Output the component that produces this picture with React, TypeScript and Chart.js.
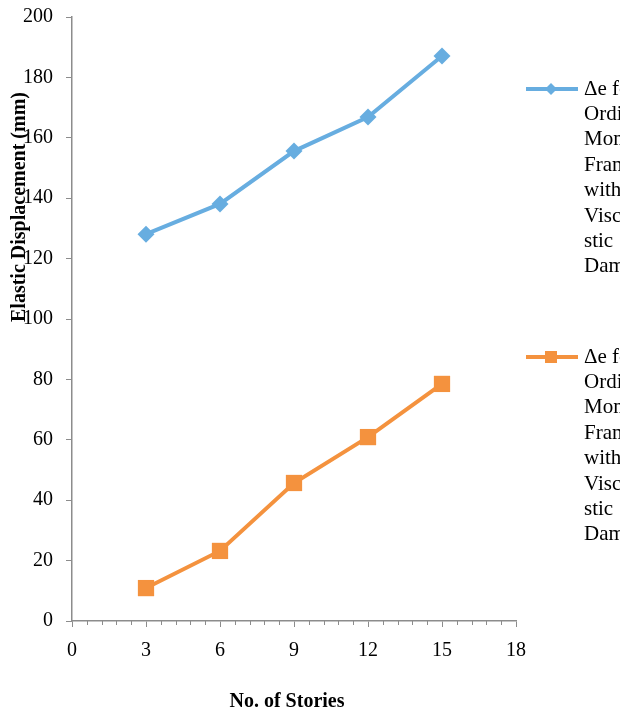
import React, { useEffect, useRef } from "react";
import { Chart, registerables } from "chart.js";

Chart.register(...registerables);

const stories = [3, 6, 9, 12, 15];
const withoutDamper = [128.1, 138.1, 155.6, 166.9, 187.1];
const withDamper = [10.9, 23.2, 45.7, 60.9, 78.5];
const legendWithout = ["\u0394e for", "Ordinary", "Moment", "Frame", "without", "Viscoela", "stic", "Damper"];
const legendWith = ["\u0394e for", "Ordinary", "Moment", "Frame", "with", "Viscoela", "stic", "Damper"];

const BLUE = "#67ade0";
const ORANGE = "#f4923e";
const AXIS = "#8c8c8c";
const FONT = "'Liberation Serif', 'Times New Roman', serif";

const decorPlugin = {
  id: "decor",
  afterDraw(chart: any) {
    const ctx = chart.ctx as CanvasRenderingContext2D;
    const x = chart.scales.x;
    const area = chart.chartArea;
    ctx.save();
    // minor ticks along the x axis
    ctx.strokeStyle = AXIS;
    ctx.lineWidth = 1;
    for (let i = 0; i <= 30; i++) {
      if (i % 5 === 0) continue;
      const px = Math.round(x.getPixelForValue(i * 0.6)) + 0.5;
      ctx.beginPath();
      ctx.moveTo(px, area.bottom);
      ctx.lineTo(px, area.bottom + 4);
      ctx.stroke();
    }
    // axis titles
    ctx.fillStyle = "#000";
    ctx.font = `bold 20px ${FONT}`;
    ctx.textAlign = "center";
    ctx.textBaseline = "middle";
    ctx.fillText("No. of Stories", 287, 702);
    ctx.save();
    ctx.translate(20, 207);
    ctx.rotate(-Math.PI / 2);
    ctx.fillText("Elastic Displacement (mm)", 0, 0);
    ctx.restore();
    // legend
    const drawEntry = (y0: number, color: string, style: string, lines: string[]) => {
      ctx.strokeStyle = color;
      ctx.lineWidth = 4;
      ctx.beginPath();
      ctx.moveTo(526, y0);
      ctx.lineTo(578, y0);
      ctx.stroke();
      ctx.fillStyle = color;
      if (style === "rectRot") {
        ctx.beginPath();
        ctx.moveTo(551, y0 - 6);
        ctx.lineTo(557, y0);
        ctx.lineTo(551, y0 + 6);
        ctx.lineTo(545, y0);
        ctx.closePath();
        ctx.fill();
      } else {
        ctx.fillRect(545, y0 - 6, 12, 12);
      }
      ctx.fillStyle = "#000";
      ctx.font = `21px ${FONT}`;
      ctx.textAlign = "left";
      ctx.textBaseline = "middle";
      lines.forEach((t, i) => ctx.fillText(t, 584, y0 + i * 25.4));
    };
    drawEntry(89, BLUE, "rectRot", legendWithout);
    drawEntry(357, ORANGE, "rect", legendWith);
    ctx.restore();
  },
};

export default function App() {
  const ref = useRef<HTMLCanvasElement>(null);
  useEffect(() => {
    document.documentElement.style.overflow = "hidden";
    document.body.style.margin = "0";
    const chart = new Chart(ref.current!, {
      type: "line",
      data: {
        datasets: [
          {
            label: "without",
            data: stories.map((s, i) => ({ x: s, y: withoutDamper[i] })),
            borderColor: BLUE,
            backgroundColor: BLUE,
            borderWidth: 4,
            pointStyle: "rectRot",
            pointRadius: 8.5,
            pointHoverRadius: 8.5,
            pointBorderWidth: 0,
            tension: 0,
          },
          {
            label: "with",
            data: stories.map((s, i) => ({ x: s, y: withDamper[i] })),
            borderColor: ORANGE,
            backgroundColor: ORANGE,
            borderWidth: 4,
            pointStyle: "rect",
            pointRadius: 11.5,
            pointHoverRadius: 11.5,
            pointBorderWidth: 0,
            tension: 0,
          },
        ],
      },
      options: {
        animation: false,
        responsive: false,
        layout: { padding: { top: 17, right: 104, bottom: 0, left: 0 } },
        plugins: { legend: { display: false }, tooltip: { enabled: false } },
        scales: {
          x: {
            type: "linear",
            min: 0,
            max: 18,
            ticks: { stepSize: 3, color: "#000", font: { family: FONT, size: 20 }, padding: 12 },
            grid: { drawOnChartArea: false, drawTicks: true, tickLength: 6, color: AXIS },
            border: { color: AXIS, width: 1.5 },
            afterFit: (s: any) => {
              s.height = 94;
              s.paddingLeft = 0;
              s.paddingRight = 0;
            },
          },
          y: {
            min: 0,
            max: 200,
            ticks: { stepSize: 20, color: "#000", font: { family: FONT, size: 20 }, padding: 13 },
            grid: { drawOnChartArea: false, drawTicks: true, tickLength: 6, color: AXIS },
            border: { color: AXIS, width: 1.5 },
            afterFit: (s: any) => {
              s.width = 72;
              s.paddingTop = 0;
              s.paddingBottom = 0;
            },
          },
        },
      },
      plugins: [decorPlugin],
    } as any);
    return () => chart.destroy();
  }, []);
  return <canvas ref={ref} width={620} height={715} style={{ display: "block" }} />;
}
